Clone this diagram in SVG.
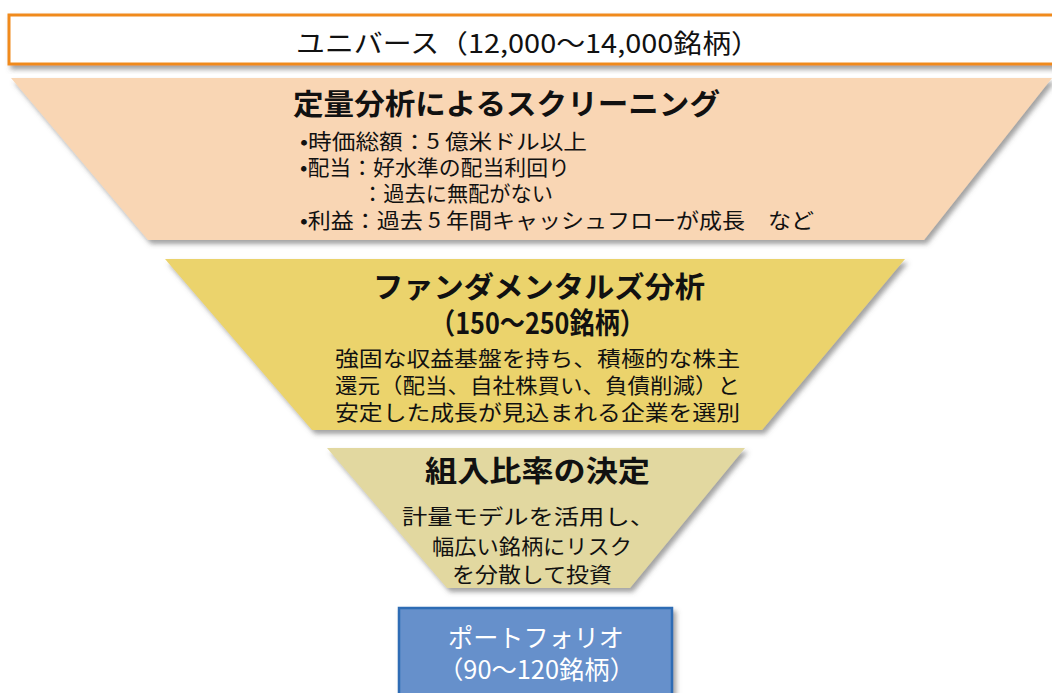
<svg xmlns="http://www.w3.org/2000/svg" width="1052" height="693" viewBox="0 0 1052 693">
<defs>
<filter id="sh" x="-5%" y="-10%" width="115%" height="130%">
<feDropShadow dx="3" dy="4" stdDeviation="2.5" flood-color="#555" flood-opacity="0.55"/>
</filter>
<style>
text{font-family:"Noto Sans CJK JP","Noto Sans",sans-serif;fill:#111;dominant-baseline:central}
.t{font-weight:bold;font-size:29px}
.b{font-size:21px}
.m{font-size:21px}
.w{fill:#fff;font-size:25px}
</style>
</defs>
<rect width="1052" height="693" fill="#fff"/>
<g id="universe">
<rect x="9" y="15" width="1060" height="49" fill="#fff" stroke="#F08A1C" stroke-width="3" filter="url(#sh)"/>
<text x="296" y="41" font-size="26" textLength="464" lengthAdjust="spacingAndGlyphs">ユニバース（12,000〜14,000銘柄）</text>
</g>
<g id="screening">
<polygon points="11,78 1052,78 924,240 148,240" fill="#F9D6B4" filter="url(#sh)"/>
<text class="t" x="293" y="102" textLength="427" lengthAdjust="spacingAndGlyphs">定量分析によるスクリーニング</text>
<text class="b" x="300" y="140" textLength="287" lengthAdjust="spacingAndGlyphs">•時価総額：5 億米ドル以上</text>
<text class="b" x="300" y="166" textLength="270" lengthAdjust="spacingAndGlyphs">•配当：好水準の配当利回り</text>
<text class="b" x="362" y="192" textLength="191" lengthAdjust="spacingAndGlyphs">：過去に無配がない</text>
<text class="b" x="300" y="219" textLength="514" lengthAdjust="spacingAndGlyphs">•利益：過去 5 年間キャッシュフローが成長　など</text>
</g>
<g id="fundamental">
<polygon points="165,259 905,259 762,430 312,430" fill="#EBD36C" filter="url(#sh)"/>
<text class="t" x="373" y="285" textLength="332" lengthAdjust="spacingAndGlyphs">ファンダメンタルズ分析</text>
<text class="t" x="430" y="321" font-size="26" textLength="215" lengthAdjust="spacingAndGlyphs">（150〜250銘柄）</text>
<text class="m" x="335" y="357" textLength="405" lengthAdjust="spacingAndGlyphs">強固な収益基盤を持ち、積極的な株主</text>
<text class="m" x="335" y="384" textLength="405" lengthAdjust="spacingAndGlyphs">還元（配当、自社株買い、負債削減）と</text>
<text class="m" x="335" y="411" textLength="405" lengthAdjust="spacingAndGlyphs">安定した成長が見込まれる企業を選別</text>
</g>
<g id="weighting">
<polygon points="327,448 745,448 630,588 447,588" fill="#E2D8A0" filter="url(#sh)"/>
<text class="t" x="425" y="469" font-size="31" textLength="225" lengthAdjust="spacingAndGlyphs">組入比率の決定</text>
<text class="m" x="402" y="515" font-size="23" textLength="253" lengthAdjust="spacingAndGlyphs">計量モデルを活用し、</text>
<text class="m" x="432" y="545" font-size="23" textLength="200" lengthAdjust="spacingAndGlyphs">幅広い銘柄にリスク</text>
<text class="m" x="452" y="573" font-size="23" textLength="160" lengthAdjust="spacingAndGlyphs">を分散して投資</text>
</g>
<g id="portfolio">
<rect x="399" y="608" width="273" height="100" fill="#6690CB" stroke="#2E6CB4" stroke-width="2.5" filter="url(#sh)"/>
<text class="w" x="448" y="636" textLength="176" lengthAdjust="spacingAndGlyphs">ポートフォリオ</text>
<text class="w" x="438" y="668" textLength="197" lengthAdjust="spacingAndGlyphs">（90〜120銘柄）</text>
</g>
<g id="connectors"/>
</svg>
